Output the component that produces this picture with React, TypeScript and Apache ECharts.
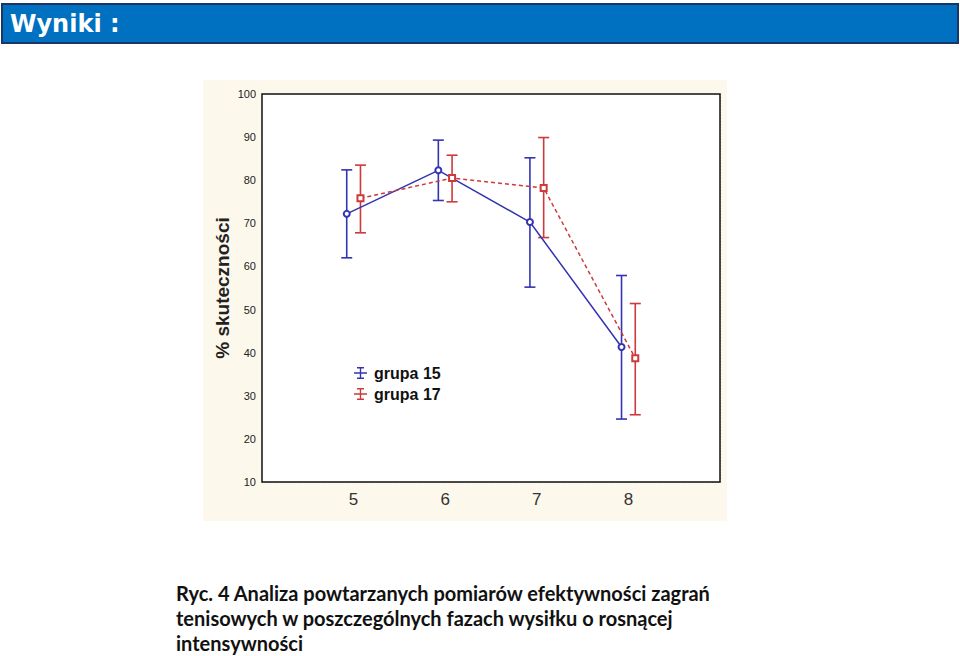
import React, { useEffect, useRef } from "react";
import * as echarts from "echarts";

const categories = [5, 6, 7, 8];
const groupNames = ["grupa 15", "grupa 17"];
const means15 = [72.2, 82.3, 70.3, 41.3];
const low15 = [62.0, 75.3, 55.2, 24.6];
const high15 = [82.4, 89.3, 85.2, 57.9];
const means17 = [75.8, 80.5, 78.2, 38.7];
const low17 = [67.8, 75.0, 66.7, 25.6];
const high17 = [83.5, 85.8, 89.9, 51.4];
const yTicks = { min: 10, max: 100, step: 10 };
const xRange = { min: 4, max: 9 };
const yAxisTitle = "% skuteczności";
const headerTitle = "Wyniki :";
const caption =
  "Ryc. 4 Analiza powtarzanych pomiarów efektywności zagrań\ntenisowych w poszczególnych fazach wysiłku o rosnącej\nintensywności";

const BLUE = "#3434b2";
const RED = "#cc3a3a";
const OFFSET = 0.075;
const ARIAL = "'Liberation Sans', Arial, sans-serif";

export default function App() {
  const ref = useRef<HTMLDivElement>(null);
  useEffect(() => {
    if (!ref.current) return;
    const chart = echarts.init(ref.current, undefined, { renderer: "svg" });

    const pts15 = categories.map((c, i) => [c - OFFSET, means15[i]]);
    const pts17 = categories.map((c, i) => [c + OFFSET, means17[i]]);
    const err15 = categories.map((c, i) => [c - OFFSET, low15[i], high15[i]]);
    const err17 = categories.map((c, i) => [c + OFFSET, low17[i], high17[i]]);

    const errRender = (color: string) => (params: any, api: any) => {
      const x = api.value(0);
      const lo = api.coord([x, api.value(1)]);
      const hi = api.coord([x, api.value(2)]);
      const hw = 5.5;
      const style = { stroke: color, lineWidth: 1.6 };
      return {
        type: "group",
        children: [
          { type: "line", shape: { x1: lo[0], y1: lo[1], x2: hi[0], y2: hi[1] }, style },
          { type: "line", shape: { x1: hi[0] - hw, y1: hi[1], x2: hi[0] + hw, y2: hi[1] }, style },
          { type: "line", shape: { x1: lo[0] - hw, y1: lo[1], x2: lo[0] + hw, y2: lo[1] }, style },
        ],
      };
    };

    const legendIcon =
      "path://M0,5.3h13v1.4h-13z M5.8,0h1.4v12h-1.4z M3,0h7v1.4h-7z M3,10.6h7v1.4h-7z";

    chart.setOption({
      animation: false,
      backgroundColor: "#ffffff",
      graphic: [
        {
          type: "rect",
          shape: { x: 2, y: 4, width: 956, height: 39 },
          style: { fill: "#0070c0", stroke: "#1c3566", lineWidth: 2 },
        },
        {
          type: "text",
          x: 10,
          y: 24,
          style: {
            text: headerTitle,
            fill: "#ffffff",
            font: "bold 24px 'DejaVu Sans'",
            verticalAlign: "middle",
          },
        },
        {
          type: "rect",
          z: -10,
          shape: { x: 203, y: 80, width: 524, height: 441 },
          style: { fill: "#fdf8ec" },
        },
        {
          type: "text",
          x: 176,
          y: 580,
          style: {
            text: caption,
            fill: "#111111",
            font: "bold 20px Lato, 'Open Sans', sans-serif",
            lineHeight: 25,
          },
        },
      ],
      grid: {
        left: 262,
        top: 94,
        width: 458,
        height: 388,
        show: true,
        backgroundColor: "#ffffff",
        borderColor: "#111111",
        borderWidth: 1.5,
        z: 1,
      },
      legend: {
        orient: "vertical",
        left: 349,
        top: 360,
        itemWidth: 13,
        itemHeight: 12,
        itemGap: 5,
        data: [
          { name: groupNames[0], icon: legendIcon },
          { name: groupNames[1], icon: legendIcon },
        ],
        textStyle: {
          fontFamily: ARIAL,
          fontWeight: "bold",
          fontSize: 16,
          color: "#111111",
          padding: [0, 0, 0, 2],
        },
      },
      xAxis: {
        type: "value",
        min: xRange.min,
        max: xRange.max,
        interval: 1,
        axisLine: { show: false },
        axisTick: { show: false },
        axisLabel: {
          margin: 9,
          fontSize: 17,
          fontFamily: ARIAL,
          color: "#333333",
          formatter: (v: number) => (categories.includes(v) ? String(v) : ""),
        },
        splitLine: { show: true, lineStyle: { color: "#bbbbbb", type: [1, 2], width: 1 } },
      },
      yAxis: {
        type: "value",
        min: yTicks.min,
        max: yTicks.max,
        interval: yTicks.step,
        name: yAxisTitle,
        nameLocation: "middle",
        nameRotate: 90,
        nameGap: 30,
        nameTextStyle: {
          fontFamily: ARIAL,
          fontWeight: "bold",
          fontSize: 19,
          color: "#222222",
        },
        axisLine: { show: false },
        axisTick: { show: false },
        axisLabel: {
          margin: 6,
          fontSize: 11,
          fontFamily: ARIAL,
          color: "#222222",
        },
        splitLine: { show: true, lineStyle: { color: "#bbbbbb", type: [1, 2], width: 1 } },
      },
      series: [
        {
          type: "custom",
          name: groupNames[0],
          renderItem: errRender(BLUE),
          data: err15,
          encode: { x: 0, y: [1, 2] },
          itemStyle: { color: BLUE },
          z: 3,
        },
        {
          type: "custom",
          name: groupNames[1],
          renderItem: errRender(RED),
          data: err17,
          encode: { x: 0, y: [1, 2] },
          itemStyle: { color: RED },
          z: 3,
        },
        {
          type: "line",
          name: groupNames[0],
          data: pts15,
          color: BLUE,
          lineStyle: { color: BLUE, width: 1.5 },
          symbol: "emptyCircle",
          symbolSize: 6,
          itemStyle: { color: BLUE, borderWidth: 1.5 },
          z: 4,
        },
        {
          type: "line",
          name: groupNames[1],
          data: pts17,
          color: RED,
          lineStyle: { color: RED, width: 1.5, type: [4, 3] },
          symbol: "emptyRect",
          symbolSize: 6,
          itemStyle: { color: RED, borderWidth: 1.5 },
          z: 4,
        },
      ],
    });
    return () => chart.dispose();
  }, []);

  return (
    <div
      ref={ref}
      style={{ position: "fixed", left: 0, top: 0, width: 960, height: 656 }}
    />
  );
}
